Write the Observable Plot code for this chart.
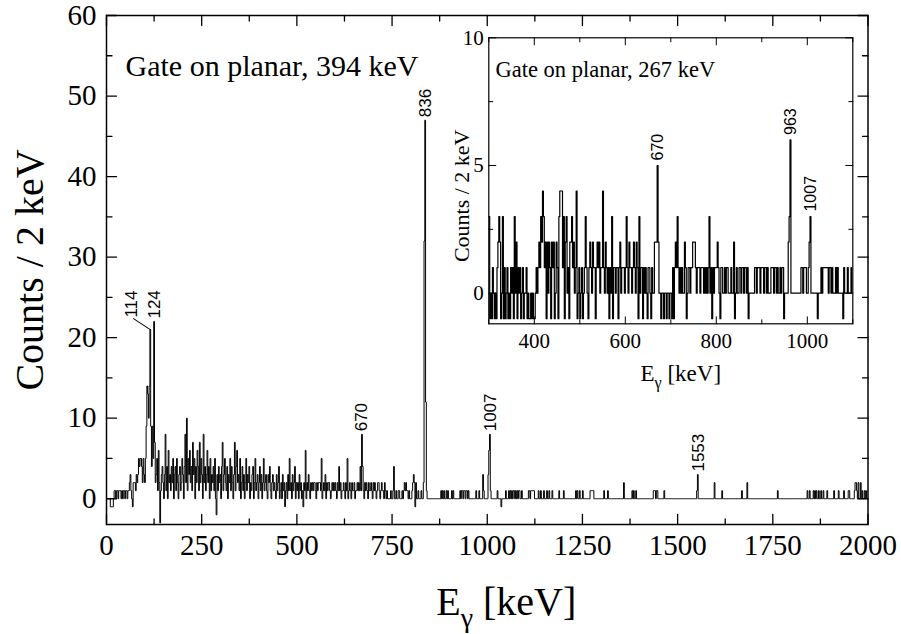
<!DOCTYPE html>
<html><head><meta charset="utf-8">
<script src="https://cdn.jsdelivr.net/npm/d3@7"></script>
<script src="https://cdn.jsdelivr.net/npm/@observablehq/plot@0.6"></script>
<style>
body{margin:0;background:#fff;}
#wrap{position:relative;width:901px;height:634px;overflow:hidden;}
#inset{position:absolute;left:440px;top:25px;}
</style></head><body><div id="wrap"><div id="main"></div><div id="inset"></div></div>
<script>
// ---------- data ----------
const binWidth = 2; // keV
// main spectrum (gate 394 keV): counts per 2-keV bin, bins starting at 0 keV up to 1018 keV
const mainLowCounts = [
  0,0,0,0,0,-1,-1,-1,-1,0,
  1,1,0,1,1,0,1,1,1,0,
  1,0,1,1,0,1,1,0,1,1,
  2,3,1,0,-1,2,2,2,1,3,
  2,3,5,4,5,5,4,2,5,3,
  2,5,9,14,13,10,14,21,9,4,
  9,5,22,7,2,3,5,1,6,2,
  -3,1,3,4,2,0,3,8,1,4,
  0,6,2,3,1,4,2,5,0,3,
  4,1,5,2,0,3,4,1,2,5,
  3,0,4,8,2,10,1,5,3,6,
  2,4,1,7,3,5,0,4,2,6,
  4,1,7,2,5,3,0,8,2,4,
  1,3,6,2,4,0,5,1,3,2,
  4,1,5,0,-2,3,1,4,2,3,
  0,4,7,1,3,5,2,1,4,0,
  3,2,5,1,4,2,0,3,7,1,
  4,6,2,3,1,5,0,2,4,1,
  3,0,2,5,1,3,2,4,0,2,
  1,3,4,0,2,5,1,2,3,0,
  2,4,1,3,0,2,5,1,2,3,
  1,0,3,2,4,1,0,2,3,1,
  2,1,0,3,1,2,4,0,1,2,
  0,3,1,2,-1,1,2,0,3,1,
  5,1,2,0,3,1,2,4,0,2,
  1,2,0,3,1,2,0,1,-1,2,
  1,6,0,2,1,3,1,0,2,1,
  2,1,2,2,1,0,2,1,2,2,
  2,1,5,0,1,2,1,3,0,2,
  1,2,2,1,0,1,2,1,2,1,
  2,1,0,2,1,4,1,2,0,1,
  1,2,1,0,2,1,5,0,1,2,
  1,0,2,1,1,2,0,1,1,2,
  1,2,1,4,1,8,4,1,0,2,
  1,2,1,0,2,1,1,2,1,0,
  2,1,2,1,0,1,2,2,1,0,
  1,2,1,1,0,2,1,0,1,0,
  0,0,0,1,0,0,1,4,0,0,
  1,0,0,1,1,0,0,0,1,0,
  1,2,1,2,1,1,0,1,0,0,
  0,1,2,3,2,-1,2,0,0,1,
  0,0,0,1,0,0,2,32,47,12,
  1,0,0,0,0,0,0,0,0,0,
  0,0,0,0,0,0,0,0,0,1,
  0,1,0,1,0,0,1,0,1,0,
  0,0,0,1,0,1,0,0,0,0,
  0,0,0,0,1,0,1,1,0,1,
  1,0,1,1,0,1,0,0,0,0,
  0,0,0,0,0,1,0,0,0,1,
  0,0,0,0,3,1,0,0,0,0,
  0,3,6,8,1,0,0,0,0,0
];
// main spectrum above 1020 keV: [bin start keV, counts] for non-empty bins
const mainHighBins = [
  [1026,1],[1036,-1],[1048,1],[1056,1],[1060,1],[1064,1],[1068,1],[1070,1],[1074,1],[1078,1],
  [1082,1],[1084,1],[1090,1],[1108,1],[1110,1],[1114,1],[1116,1],[1118,1],[1120,1],[1122,1],
  [1134,1],[1140,1],[1148,1],[1156,1],[1162,1],[1170,1],[1188,1],[1200,1],[1232,1],[1236,1],
  [1242,1],[1250,1],[1270,1],[1272,1],[1274,1],[1276,1],[1278,1],[1306,1],[1316,1],[1358,2],
  [1380,1],[1384,1],[1390,1],[1436,1],[1438,1],[1440,1],[1444,1],[1446,1],[1464,1],[1550,1],
  [1552,3],[1596,2],[1616,1],[1668,1],[1682,2],[1762,1],[1840,1],[1846,1],[1856,1],[1860,1],
  [1864,1],[1870,1],[1876,1],[1882,1],[1892,1],[1910,1],[1922,1],[1936,1],[1948,1],[1950,1],
  [1964,1],[1966,2],[1968,2],[1970,1],[1974,2],[1980,2],[1984,1],[1990,1],[1994,1]
];
const mainPeakE = [124, 670, 836, 1007, 1553];
const mainPeakLabels = ["124", "670", "836", "1007", "1553"];
const mainSidePeakE = [114];
const mainSidePeakLabels = ["114"];

// inset spectrum (gate 267 keV): counts per 2-keV bin from 300 keV to 1098 keV
const insetStart = 300;
const insetCounts = [
  3,-1,0,-1,1,0,-1,0,-1,1,
  2,3,2,-1,0,3,-1,1,-1,0,
  1,-1,0,-1,1,0,1,-1,3,0,
  2,-1,1,0,1,-1,0,1,-1,0,
  0,1,-1,0,-1,-1,0,-1,0,-1,
  -1,0,1,0,1,2,1,3,2,4,
  3,1,2,-1,2,0,2,1,-1,2,
  1,2,-1,0,2,1,-1,3,4,4,
  4,1,3,-1,2,3,0,1,-1,2,
  2,3,1,2,0,1,4,-1,0,1,
  -1,0,1,-1,0,1,3,1,0,-1,
  1,2,1,0,2,1,1,-1,1,2,
  1,2,0,1,1,4,1,0,2,1,
  0,1,-1,1,0,3,-1,1,1,0,
  1,1,-1,1,2,0,1,1,1,0,
  1,3,1,0,2,1,1,0,1,2,
  1,0,2,1,-1,3,0,1,1,-1,
  1,0,1,0,-1,1,1,0,-1,1,
  0,0,2,2,2,5,2,0,0,-1,
  0,0,-1,0,0,-1,0,0,-1,0,
  0,-1,1,-1,1,2,1,3,1,0,
  1,0,1,0,0,2,1,-1,0,1,
  1,0,1,1,2,2,2,1,0,1,
  1,1,0,1,1,1,0,1,0,1,
  0,1,3,0,1,-1,1,0,1,1,
  1,2,1,0,-1,1,1,0,0,1,
  0,1,1,0,0,0,1,0,0,2,
  -1,0,1,0,0,1,1,0,1,1,
  0,1,1,0,1,-1,0,0,0,0,
  0,0,1,1,0,1,1,1,0,1,
  1,1,0,1,1,0,1,0,0,0,
  1,1,1,0,1,1,0,1,0,0,
  1,0,1,1,-1,0,0,0,0,2,
  3,6,0,0,0,0,0,0,0,0,
  0,0,0,1,1,0,1,1,1,0,
  0,1,2,3,0,0,0,0,0,0,
  0,-1,0,0,0,1,0,1,1,1,
  1,1,1,0,1,1,0,1,0,0,
  0,1,0,1,0,0,0,0,0,-1,
  1,0,0,0,1,0,0,0,1,0
];
const insetPeakE = [670, 963, 1007];
const insetPeakLabels = ["670", "963", "1007"];

// ticks and texts
const mainXMajor = [0, 250, 500, 750, 1000, 1250, 1500, 1750, 2000];
const mainXMinor = [125, 375, 625, 875, 1125, 1375, 1625, 1875];
const mainYMajor = [0, 10, 20, 30, 40, 50, 60];
const mainYMinor = [5, 15, 25, 35, 45, 55];
const insetXMajor = [400, 600, 800, 1000];
const insetXMinor = [300, 500, 700, 900, 1100];
const insetYMajor = [0, 5, 10];
const insetYMinor = [2.5, 7.5];
const mainTitle = "Gate on planar, 394 keV";
const insetTitle = "Gate on planar, 267 keV";
const yLabel = "Counts / 2 keV";
const xLabel = "Eγ [keV]";

// ---------- build ----------
const serif = "'Liberation Serif','Times New Roman',Times,serif";
const sans = "'Liberation Sans',Arial,Helvetica,sans-serif";

const mainHist = [];
for (let e = 0; e < 2000; e += binWidth) mainHist.push({e, c: 0});
mainLowCounts.forEach((c, i) => { mainHist[i].c = c; });
mainHighBins.forEach(([e, c]) => { mainHist[e / binWidth].c = c; });
mainHist.push({e: 2000, c: mainHist[mainHist.length - 1].c});

const insetHist = insetCounts.map((c, i) => ({e: insetStart + i * binWidth, c}));
insetHist.push({e: insetStart + insetCounts.length * binWidth, c: insetCounts[insetCounts.length - 1]});

function countAt(hist, e) {
  const b = Math.floor(e / binWidth) * binWidth;
  const d = hist.find(h => h.e === b);
  return d ? d.c : 0;
}
const mainPeaks = mainPeakE.map((e, i) => ({x: e, y: countAt(mainHist, e), t: mainPeakLabels[i]}));
const mainSidePeaks = mainSidePeakE.map((e, i) => ({x: e, y: countAt(mainHist, e), t: mainSidePeakLabels[i]}));
const insetPeaks = insetPeakE.map((e, i) => ({x: e, y: countAt(insetHist, e), t: insetPeakLabels[i]}));

const tickLine = {draw(ctx, l) { ctx.moveTo(0, 0); ctx.lineTo(0, -l); }};
function sideTicks(values, side, len, sw) {
  const rot = {bottom: 0, top: 180, left: 90, right: -90}[side];
  const ch = (side === "bottom" || side === "top") ? "x" : "y";
  return Plot.vector(values, {[ch]: d => d, frameAnchor: side, rotate: rot, length: len,
    anchor: "start", shape: tickLine, stroke: "black", strokeWidth: sw});
}
function allTicks(xMaj, xMin, yMaj, yMin, lMaj, lMin, sw) {
  const out = [];
  for (const s of ["bottom", "top"]) { out.push(sideTicks(xMaj, s, lMaj, sw), sideTicks(xMin, s, lMin, sw)); }
  for (const s of ["left", "right"]) { out.push(sideTicks(yMaj, s, lMaj, sw), sideTicks(yMin, s, lMin, sw)); }
  return out;
}
function subscriptGamma(svg, shift) {
  d3.select(svg).selectAll("text").filter(function() { return this.textContent === xLabel; })
    .each(function() {
      const t = d3.select(this);
      t.text("");
      t.append("tspan").text("E");
      t.append("tspan").attr("font-size", "70%").attr("dy", shift).text("γ");
      t.append("tspan").attr("dy", -shift).text(" [keV]");
    });
}

const main = Plot.plot({
  width: 901, height: 634,
  marginLeft: 106, marginRight: 33.5, marginTop: 15, marginBottom: 110,
  x: {domain: [0, 2000]},
  y: {domain: [-3.2, 60]},
  style: {fontFamily: serif, background: "transparent", overflow: "visible", color: "black"},
  marks: [
    Plot.lineY(mainHist, {x: "e", y: "c", curve: "step-after", stroke: "black", strokeWidth: 1, clip: true}),
    Plot.frame({stroke: "black", strokeWidth: 1.5}),
    ...allTicks(mainXMajor, mainXMinor, mainYMajor, mainYMinor, 10, 5.5, 1.3),
    Plot.axisX(mainXMajor, {tickSize: 0, tickPadding: 10, fontSize: 29, tickFormat: "d", label: null}),
    Plot.axisY(mainYMajor, {tickSize: 0, tickPadding: 10, fontSize: 29, tickFormat: "d", label: null}),
    Plot.text([yLabel], {text: d => d, frameAnchor: "left", dx: -76, rotate: -90, fontSize: 40,
      textAnchor: "middle", lineAnchor: "middle"}),
    Plot.text([xLabel], {text: d => d, frameAnchor: "bottom", dx: 19, dy: 90, fontSize: 40,
      textAnchor: "middle", lineAnchor: "bottom"}),
    Plot.text([mainTitle], {text: d => d, frameAnchor: "top-left", dx: 19, dy: 60, fontSize: 30, textAnchor: "start", lineAnchor: "bottom"}),
    Plot.text(mainPeaks, {x: d => d.x + 1, y: "y", text: "t", rotate: -90, textAnchor: "start", lineAnchor: "middle",
      dy: -3, fontFamily: sans, fontSize: 17}),
    Plot.text(mainSidePeaks, {x: d => d.x + 1, y: "y", text: "t", rotate: -90, textAnchor: "start", lineAnchor: "middle",
      dx: -19, dy: -12, fontFamily: sans, fontSize: 17}),
    Plot.vector(mainSidePeaks, {x: d => d.x + 1, y: "y", rotate: -57, length: 20, anchor: "start", shape: tickLine,
      stroke: "black", strokeWidth: 1})
  ]
});
subscriptGamma(main, 12);
document.getElementById("main").appendChild(main);

const inset = Plot.plot({
  width: 420, height: 370,
  marginLeft: 48.3, marginRight: 7.7, marginTop: 12.3, marginBottom: 71.7,
  x: {domain: [300, 1100]},
  y: {domain: [-1.2, 10]},
  style: {fontFamily: serif, background: "transparent", overflow: "visible", color: "black"},
  marks: [
    Plot.lineY(insetHist, {x: "e", y: "c", curve: "step-after", stroke: "black", strokeWidth: 1.2, clip: true}),
    Plot.frame({stroke: "black", strokeWidth: 1.2}),
    ...allTicks(insetXMajor, insetXMinor, insetYMajor, insetYMinor, 7, 4, 1),
    Plot.axisX(insetXMajor, {tickSize: 0, tickPadding: 9, fontSize: 21, tickFormat: "d", label: null}),
    Plot.axisY(insetYMajor, {tickSize: 0, tickPadding: 5, fontSize: 21, tickFormat: "d", label: null}),
    Plot.text([yLabel], {text: d => d, frameAnchor: "left", dx: -26.6, dy: 15, rotate: -90, fontSize: 22,
      textAnchor: "middle", lineAnchor: "middle"}),
    Plot.text([xLabel], {text: d => d, frameAnchor: "bottom", dx: 10, dy: 57, fontSize: 23,
      textAnchor: "middle", lineAnchor: "bottom"}),
    Plot.text([insetTitle], {text: d => d, frameAnchor: "top-left", dx: 6.7, dy: 39.4, fontSize: 22.5, textAnchor: "start", lineAnchor: "bottom"}),
    Plot.text(insetPeaks, {x: d => d.x + 1, y: "y", text: "t", rotate: -90, textAnchor: "start", lineAnchor: "middle",
      dy: -5, fontFamily: sans, fontSize: 16})
  ]
});
subscriptGamma(inset, 7);
document.getElementById("inset").appendChild(inset);
</script>
</body></html>
